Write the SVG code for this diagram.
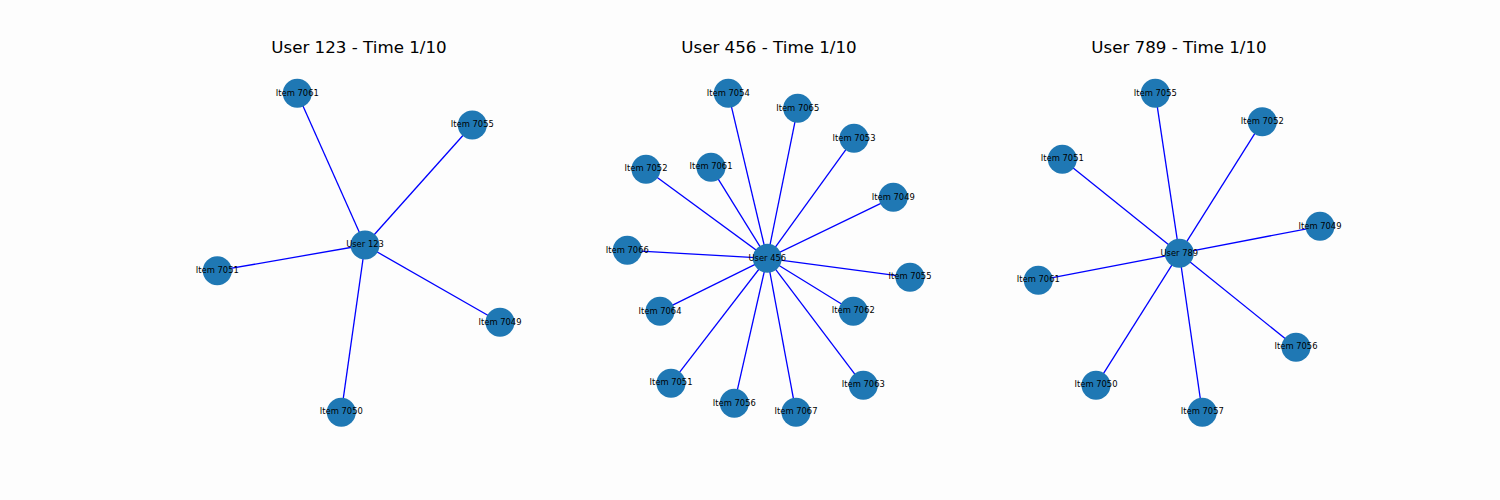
<svg xmlns="http://www.w3.org/2000/svg" width="1500" height="500" viewBox="0 0 1500 500">
<style>
.e{stroke:#0000ff;stroke-width:1.3;fill:none}
.n circle{fill:#1f78b4}
.n text{font-family:"DejaVu Sans",sans-serif;font-size:8.4px;fill:#000;text-anchor:middle;dominant-baseline:central}
.t{font-family:"DejaVu Sans",sans-serif;font-size:16.7px;fill:#000;text-anchor:middle}
</style>
<rect width="1500" height="500" fill="#fdfdfd"/>
<text class="t" x="359" y="53">User 123 - Time 1/10</text>
<text class="t" x="769" y="53">User 456 - Time 1/10</text>
<text class="t" x="1179" y="53">User 789 - Time 1/10</text>
<g id="connectors">
<line class="e" x1="365" y1="245" x2="297.3" y2="93.3"/>
<line class="e" x1="365" y1="245" x2="472.3" y2="125"/>
<line class="e" x1="365" y1="245" x2="217.3" y2="270.7"/>
<line class="e" x1="365" y1="245" x2="500" y2="322.3"/>
<line class="e" x1="365" y1="245" x2="341.3" y2="412.3"/>
<line class="e" x1="767.3" y1="258.3" x2="728.3" y2="93.3"/>
<line class="e" x1="767.3" y1="258.3" x2="797.7" y2="108.3"/>
<line class="e" x1="767.3" y1="258.3" x2="854" y2="138.3"/>
<line class="e" x1="767.3" y1="258.3" x2="893.3" y2="197.3"/>
<line class="e" x1="767.3" y1="258.3" x2="910" y2="277.3"/>
<line class="e" x1="767.3" y1="258.3" x2="853.3" y2="311.3"/>
<line class="e" x1="767.3" y1="258.3" x2="863.3" y2="385.3"/>
<line class="e" x1="767.3" y1="258.3" x2="796" y2="412.3"/>
<line class="e" x1="767.3" y1="258.3" x2="734.3" y2="403.3"/>
<line class="e" x1="767.3" y1="258.3" x2="671" y2="383.3"/>
<line class="e" x1="767.3" y1="258.3" x2="660" y2="311.3"/>
<line class="e" x1="767.3" y1="258.3" x2="627.3" y2="250.3"/>
<line class="e" x1="767.3" y1="258.3" x2="646" y2="169.3"/>
<line class="e" x1="767.3" y1="258.3" x2="711" y2="167.3"/>
<line class="e" x1="1179.3" y1="253.3" x2="1155.3" y2="93.3"/>
<line class="e" x1="1179.3" y1="253.3" x2="1262.3" y2="121.7"/>
<line class="e" x1="1179.3" y1="253.3" x2="1062.3" y2="159.3"/>
<line class="e" x1="1179.3" y1="253.3" x2="1320" y2="226.3"/>
<line class="e" x1="1179.3" y1="253.3" x2="1038.3" y2="280.3"/>
<line class="e" x1="1179.3" y1="253.3" x2="1296" y2="347.3"/>
<line class="e" x1="1179.3" y1="253.3" x2="1096" y2="385.3"/>
<line class="e" x1="1179.3" y1="253.3" x2="1202.3" y2="412.3"/>
</g>
<g id="p1-user123" class="n"><circle cx="365" cy="245" r="14.5"/><text x="365" y="244">User 123</text></g>
<g id="p1-item7061" class="n"><circle cx="297.3" cy="93.3" r="14.5"/><text x="297.3" y="93">Item 7061</text></g>
<g id="p1-item7055" class="n"><circle cx="472.3" cy="125" r="14.5"/><text x="472.3" y="124">Item 7055</text></g>
<g id="p1-item7051" class="n"><circle cx="217.3" cy="270.7" r="14.5"/><text x="217.3" y="270">Item 7051</text></g>
<g id="p1-item7049" class="n"><circle cx="500" cy="322.3" r="14.5"/><text x="500" y="322">Item 7049</text></g>
<g id="p1-item7050" class="n"><circle cx="341.3" cy="412.3" r="14.5"/><text x="341.3" y="411">Item 7050</text></g>
<g id="p2-user456" class="n"><circle cx="767.3" cy="258.3" r="14.5"/><text x="767.3" y="258">User 456</text></g>
<g id="p2-item7054" class="n"><circle cx="728.3" cy="93.3" r="14.5"/><text x="728.3" y="93">Item 7054</text></g>
<g id="p2-item7065" class="n"><circle cx="797.7" cy="108.3" r="14.5"/><text x="797.7" y="108">Item 7065</text></g>
<g id="p2-item7053" class="n"><circle cx="854" cy="138.3" r="14.5"/><text x="854" y="138">Item 7053</text></g>
<g id="p2-item7049" class="n"><circle cx="893.3" cy="197.3" r="14.5"/><text x="893.3" y="197">Item 7049</text></g>
<g id="p2-item7055" class="n"><circle cx="910" cy="277.3" r="14.5"/><text x="910" y="276">Item 7055</text></g>
<g id="p2-item7062" class="n"><circle cx="853.3" cy="311.3" r="14.5"/><text x="853.3" y="310">Item 7062</text></g>
<g id="p2-item7063" class="n"><circle cx="863.3" cy="385.3" r="14.5"/><text x="863.3" y="384">Item 7063</text></g>
<g id="p2-item7067" class="n"><circle cx="796" cy="412.3" r="14.5"/><text x="796" y="411">Item 7067</text></g>
<g id="p2-item7056" class="n"><circle cx="734.3" cy="403.3" r="14.5"/><text x="734.3" y="403">Item 7056</text></g>
<g id="p2-item7051" class="n"><circle cx="671" cy="383.3" r="14.5"/><text x="671" y="382">Item 7051</text></g>
<g id="p2-item7064" class="n"><circle cx="660" cy="311.3" r="14.5"/><text x="660" y="311">Item 7064</text></g>
<g id="p2-item7066" class="n"><circle cx="627.3" cy="250.3" r="14.5"/><text x="627.3" y="250">Item 7066</text></g>
<g id="p2-item7052" class="n"><circle cx="646" cy="169.3" r="14.5"/><text x="646" y="168">Item 7052</text></g>
<g id="p2-item7061" class="n"><circle cx="711" cy="167.3" r="14.5"/><text x="711" y="166">Item 7061</text></g>
<g id="p3-user789" class="n"><circle cx="1179.3" cy="253.3" r="14.5"/><text x="1179.3" y="253">User 789</text></g>
<g id="p3-item7055" class="n"><circle cx="1155.3" cy="93.3" r="14.5"/><text x="1155.3" y="93">Item 7055</text></g>
<g id="p3-item7052" class="n"><circle cx="1262.3" cy="121.7" r="14.5"/><text x="1262.3" y="121">Item 7052</text></g>
<g id="p3-item7051" class="n"><circle cx="1062.3" cy="159.3" r="14.5"/><text x="1062.3" y="158">Item 7051</text></g>
<g id="p3-item7049" class="n"><circle cx="1320" cy="226.3" r="14.5"/><text x="1320" y="226">Item 7049</text></g>
<g id="p3-item7061" class="n"><circle cx="1038.3" cy="280.3" r="14.5"/><text x="1038.3" y="279">Item 7061</text></g>
<g id="p3-item7056" class="n"><circle cx="1296" cy="347.3" r="14.5"/><text x="1296" y="346">Item 7056</text></g>
<g id="p3-item7050" class="n"><circle cx="1096" cy="385.3" r="14.5"/><text x="1096" y="384">Item 7050</text></g>
<g id="p3-item7057" class="n"><circle cx="1202.3" cy="412.3" r="14.5"/><text x="1202.3" y="411">Item 7057</text></g>
</svg>
